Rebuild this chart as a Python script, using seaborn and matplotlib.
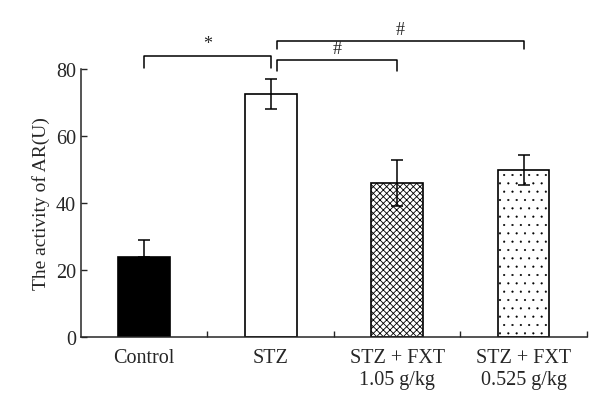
import matplotlib
matplotlib.use('Agg')
import matplotlib.pyplot as plt
import seaborn as sns
import pandas as pd

groups = ['Control', 'STZ', 'STZ + FXT\n1.05 g/kg', 'STZ + FXT\n0.525 g/kg']
activity = [24.0, 72.5, 46.0, 50.0]
sd = [5.0, 4.5, 7.0, 4.5]
fills = ['black', 'white', 'white', 'white']
hatches = ['', '', 'xxxxx', '..']

# significance brackets: (from, to, height, leg bottom, mark)
brackets = [(0, 1, 84.0, 80.3, '*'),
            (1.05, 2, 82.7, 79.5, '#'),
            (1.05, 3, 88.4, 86.0, '#')]

sns.set_style('ticks')
plt.rcParams['font.family'] = ['Liberation Serif', 'DejaVu Serif']
plt.rcParams['hatch.linewidth'] = 0.6

df = pd.DataFrame({'group': groups, 'activity': activity})

fig = plt.figure(figsize=(6, 4.14), dpi=100)
ax = fig.add_axes([0.135, 0.1836, 0.843, 0.647])
sns.barplot(data=df, x='group', y='activity', order=groups, width=0.41,
            palette=fills, hue='group', legend=False, edgecolor='black',
            linewidth=1.2, errorbar=None, ax=ax)
for bar, h in zip(ax.patches, hatches):
    bar.set_hatch(h)
    if h == '..' and hasattr(bar, 'set_hatch_linewidth'):
        bar.set_hatch_linewidth(0.3)

# error bars (control shows only the upper half, the rest is behind the bar)
for i, (m, e) in enumerate(zip(activity, sd)):
    lo = 0 if i == 0 else e
    ax.errorbar(i, m, yerr=[[lo], [e]], fmt='none', ecolor='black',
                elinewidth=1.1, capsize=4, capthick=1.1, zorder=5)

for x0, x1, top, leg, mark in brackets:
    ax.plot([x0, x0, x1, x1], [leg, top, top, leg], color='black',
            lw=1.1, clip_on=False)
    ax.text((x0 + x1) / 2, top + 1.0, mark, ha='center', va='bottom',
            fontsize=13)

ax.set_xlim(-0.5, 3.5)
ax.set_ylim(0, 80)
ax.set_yticks([0, 20, 40, 60, 80])
ax.set_xticks([0.5, 1.5, 2.5, 3.5], minor=True)
ax.tick_params(axis='x', which='major', length=0, labelsize=14.5, pad=8)
ax.tick_params(axis='x', which='minor', direction='in', length=4, width=1)
ax.tick_params(axis='y', direction='in', length=4, width=1, labelsize=14.5)
ax.set_xlabel('')
ax.set_ylabel('The activity of AR(U)', fontsize=14)
for side in ['top', 'right']:
    ax.spines[side].set_visible(False)
for side in ['left', 'bottom']:
    ax.spines[side].set_linewidth(1.1)

plt.savefig('out.png', dpi=100)
plt.close()
